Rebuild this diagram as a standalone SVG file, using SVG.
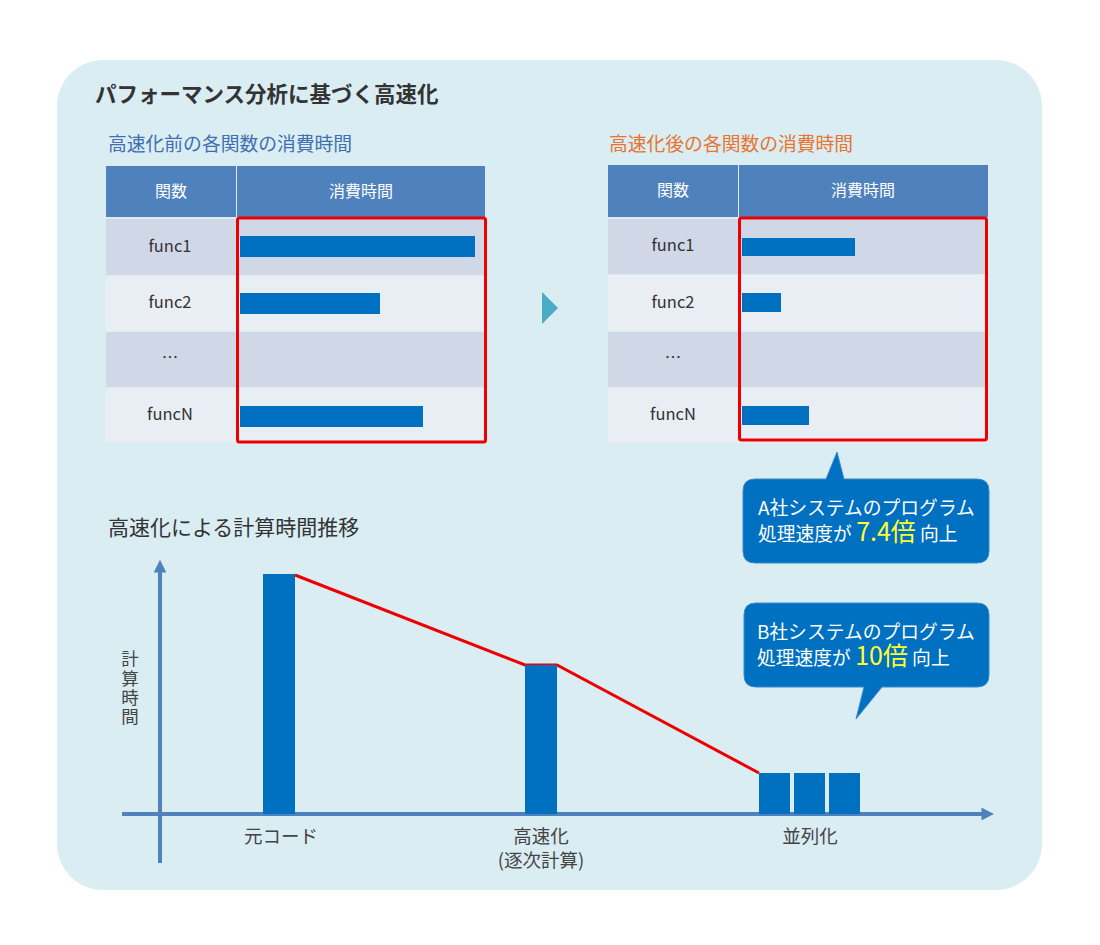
<svg xmlns="http://www.w3.org/2000/svg" width="1100" height="945" viewBox="0 0 1100 945">
<style>
text{font-family:"Noto Sans CJK JP","Liberation Sans",sans-serif;}
.hdr{fill:#4F81BD;}
.hdrt{fill:#FFFFFF;font-size:16px;text-anchor:middle;}
.r1{fill:#D0D8E8;}
.r2{fill:#E9EDF4;}
.cell{fill:#333333;font-size:16.5px;text-anchor:middle;}
.bar{fill:#0070C0;}
.hl{fill:none;stroke:#EE0000;stroke-width:3;}
.sub{font-size:18.8px;}
.axis{stroke:#4F81BD;stroke-width:4;fill:none;}
.lbl{fill:#444444;font-size:18.5px;text-anchor:middle;}
.co{fill:#0070C0;stroke:#3A8CD0;stroke-width:1;}
.cot{fill:#FFFFFF;font-size:18.8px;}
.big{fill:#FFFF33;font-size:25px;}
</style>
<defs>
<marker id="ah" viewBox="0 0 10 10" refX="2" refY="5" markerWidth="3.2" markerHeight="3.2" orient="auto" markerUnits="strokeWidth">
<path d="M0,0 L10,5 L0,10 Z" fill="#4F81BD"/>
</marker>
</defs>
<rect x="0" y="0" width="1100" height="945" fill="#FFFFFF"/>
<rect id="panel" x="57" y="60" width="985" height="830" rx="46" ry="46" fill="#DAEDF3"/>
<text x="95" y="102" font-size="21.5" font-weight="bold" fill="#333333">パフォーマンス分析に基づく高速化</text>

<g id="table-before">
<text class="sub" x="108" y="151" fill="#3F6FB0">高速化前の各関数の消費時間</text>
<rect class="hdr" x="106" y="166" width="130" height="51"/>
<rect class="hdr" x="237" y="166" width="248" height="51"/>
<text class="hdrt" x="171" y="197">関数</text>
<text class="hdrt" x="361" y="197">消費時間</text>
<rect class="r1" x="106" y="219" width="379" height="56"/>
<rect class="r2" x="106" y="276" width="379" height="55"/>
<rect class="r1" x="106" y="332" width="379" height="55"/>
<rect class="r2" x="106" y="388" width="379" height="54"/>
<text class="cell" x="170" y="252">func1</text>
<text class="cell" x="170" y="308">func2</text>
<text class="cell" x="170" y="364">…</text>
<text class="cell" x="170" y="420">funcN</text>
<rect class="bar" x="240" y="236" width="235" height="21"/>
<rect class="bar" x="240" y="293" width="140" height="21"/>
<rect class="bar" x="240" y="406" width="183" height="21"/>
<rect class="hl" x="237.5" y="218" width="248" height="224" rx="2"/>
</g>

<g id="arrow-right">
<path d="M542,292 L558,308 L542,324 Z" fill="#4BACC6"/>
</g>

<g id="table-after">
<text class="sub" x="609" y="151" fill="#E8742F">高速化後の各関数の消費時間</text>
<rect class="hdr" x="608" y="165" width="130" height="52"/>
<rect class="hdr" x="739" y="165" width="249" height="52"/>
<text class="hdrt" x="673" y="196">関数</text>
<text class="hdrt" x="863" y="196">消費時間</text>
<rect class="r1" x="608" y="219" width="380" height="55"/>
<rect class="r2" x="608" y="275" width="380" height="56"/>
<rect class="r1" x="608" y="332" width="380" height="55"/>
<rect class="r2" x="608" y="388" width="380" height="55"/>
<text class="cell" x="673" y="251">func1</text>
<text class="cell" x="673" y="308">func2</text>
<text class="cell" x="673" y="364">…</text>
<text class="cell" x="673" y="420">funcN</text>
<rect class="bar" x="742" y="238" width="113" height="18"/>
<rect class="bar" x="742" y="293" width="39" height="19"/>
<rect class="bar" x="742" y="406" width="67" height="19"/>
<rect class="hl" x="739.5" y="218" width="247" height="222" rx="2"/>
</g>

<g id="callout-a">
<path class="co" d="M755,479 L826,479 L837,452 L844,479 L977,479 Q989,479 989,491 L989,551 Q989,563 977,563 L755,563 Q743,563 743,551 L743,491 Q743,479 755,479 Z"/>
<text class="cot" x="758" y="515">A社システムのプログラム</text>
<text class="cot" x="758" y="541">処理速度が <tspan class="big">7.4倍</tspan> 向上</text>
</g>

<g id="callout-b">
<path class="co" d="M756,603 L977,603 Q989,603 989,615 L989,675 Q989,687 977,687 L882,687 L856,719 L864,687 L756,687 Q744,687 744,675 L744,615 Q744,603 756,603 Z"/>
<text class="cot" x="757" y="639">B社システムのプログラム</text>
<text class="cot" x="757" y="665">処理速度が <tspan class="big">10倍</tspan> 向上</text>
</g>

<g id="chart">
<text x="108" y="535" font-size="21" fill="#333333">高速化による計算時間推移</text>
<g id="connectors">
<line class="axis" x1="160" y1="863" x2="160" y2="570" marker-end="url(#ah)"/>
<line class="axis" x1="122" y1="814" x2="984" y2="814" marker-end="url(#ah)"/>
<polyline points="295,575 525,665 557,665 759,773" fill="none" stroke="#EE0000" stroke-width="3"/>
</g>
<text id="y-label" x="130" y="650" writing-mode="vertical-rl" font-size="17.5" letter-spacing="1.7" fill="#444444">計算時間</text>
<g id="bar-orig">
<rect class="bar" x="263" y="574" width="32" height="240"/>
<text class="lbl" x="281" y="843">元コード</text>
</g>
<g id="bar-fast">
<rect class="bar" x="525" y="665" width="32" height="149"/>
<text class="lbl" x="541" y="843">高速化</text>
<text class="lbl" x="541" y="867">(逐次計算)</text>
</g>
<g id="bar-par">
<rect class="bar" x="759" y="773" width="31" height="41"/>
<rect class="bar" x="794" y="773" width="31" height="41"/>
<rect class="bar" x="829" y="773" width="31" height="41"/>
<text class="lbl" x="810" y="843">並列化</text>
</g>
</g>
</svg>
